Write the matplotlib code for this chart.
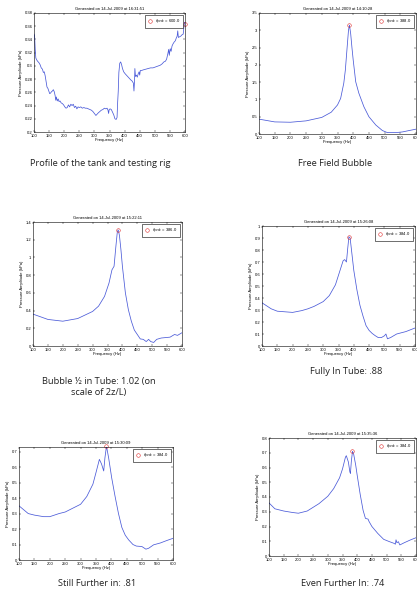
import matplotlib
matplotlib.use("Agg")
import matplotlib.pyplot as plt

# ---------------- data ----------------
freq_ticks = [100, 150, 200, 250, 300, 350, 400, 450, 500, 550, 600]

f1 = [100, 102, 104, 106, 109, 112, 116, 120, 124, 128, 131, 134, 137, 140, 143, 146, 149, 152, 155, 158,
      161, 164, 167, 170, 172, 174, 177, 180, 183, 186, 190, 194, 198, 202, 206, 210, 214, 218, 222, 226,
      230, 234, 238, 242, 246, 250, 255, 260, 265, 270, 275, 280, 285, 290, 295, 300, 305, 309, 313, 318,
      323, 328, 333, 338, 342, 345, 347, 349, 352, 356, 360, 364, 368, 372, 375, 377, 379, 381, 384, 387,
      390, 393, 397, 402, 408, 414, 420, 425, 429, 431, 433, 434, 436, 439, 442, 445, 448, 450, 452, 456,
      462, 470, 478, 486, 494, 500, 506, 512, 518, 524, 530, 535, 539, 543, 546, 548, 551, 554, 557, 560,
      564, 568, 571, 574, 576, 578, 582, 586, 590, 594, 597, 599, 600]
a1 = [0.348, 0.345, 0.325, 0.312, 0.309, 0.307, 0.305, 0.302, 0.297, 0.295, 0.290, 0.291, 0.285, 0.276,
      0.268, 0.266, 0.262, 0.258, 0.259, 0.261, 0.262, 0.264, 0.261, 0.255, 0.248, 0.253, 0.247, 0.250,
      0.246, 0.247, 0.244, 0.243, 0.241, 0.238, 0.236, 0.237, 0.241, 0.238, 0.242, 0.240, 0.242, 0.237,
      0.239, 0.235, 0.238, 0.237, 0.238, 0.236, 0.237, 0.236, 0.236, 0.235, 0.234, 0.233, 0.231, 0.228,
      0.225, 0.227, 0.229, 0.231, 0.233, 0.234, 0.236, 0.235, 0.236, 0.233, 0.228, 0.234, 0.235, 0.234,
      0.230, 0.226, 0.220, 0.219, 0.222, 0.245, 0.262, 0.290, 0.304, 0.306, 0.302, 0.296, 0.291, 0.288,
      0.285, 0.282, 0.279, 0.277, 0.274, 0.262, 0.278, 0.296, 0.284, 0.286, 0.283, 0.288, 0.291, 0.286,
      0.293, 0.293, 0.294, 0.295, 0.296, 0.297, 0.297, 0.298, 0.299, 0.300, 0.301, 0.303, 0.306, 0.307,
      0.310, 0.318, 0.325, 0.316, 0.326, 0.322, 0.330, 0.333, 0.336, 0.338, 0.342, 0.345, 0.353, 0.343,
      0.344, 0.345, 0.347, 0.348, 0.362, 0.366, 0.365]

f2 = [100, 150, 200, 250, 300, 330, 350, 360, 370, 375, 380, 385, 388, 392, 396, 400, 408, 418, 434, 450,
      472, 493, 509, 536, 557, 578, 600]
a2 = [0.43, 0.35, 0.34, 0.38, 0.48, 0.63, 0.84, 1.03, 1.47, 1.85, 2.43, 3.0, 3.15, 2.9, 2.5, 2.14, 1.51,
      1.18, 0.79, 0.5, 0.26, 0.1, 0.04, 0.04, 0.06, 0.1, 0.14]

f3 = [100, 150, 200, 250, 300, 320, 340, 355, 365, 372, 378, 383, 386, 390, 395, 400, 410, 420, 430, 440,
      450, 460, 470, 480, 488, 495, 505, 515, 530, 560, 575, 585, 600]
a3 = [0.36, 0.30, 0.28, 0.31, 0.39, 0.45, 0.56, 0.71, 0.86, 0.90, 1.12, 1.29, 1.31, 1.25, 1.09, 0.90,
      0.60, 0.41, 0.28, 0.18, 0.13, 0.08, 0.075, 0.05, 0.075, 0.05, 0.04, 0.075, 0.09, 0.10, 0.13, 0.12, 0.15]

f4 = [100, 130, 150, 200, 230, 250, 270, 300, 320, 340, 355, 365, 370, 376, 380, 384, 388, 392, 400, 410,
      420, 430, 440, 450, 460, 470, 480, 490, 500, 505, 510, 520, 540, 570, 600]
a4 = [0.36, 0.31, 0.29, 0.28, 0.295, 0.31, 0.33, 0.37, 0.42, 0.51, 0.63, 0.71, 0.72, 0.70, 0.81, 0.91,
      0.90, 0.81, 0.63, 0.47, 0.34, 0.25, 0.17, 0.13, 0.105, 0.086, 0.07, 0.07, 0.085, 0.10, 0.06, 0.07,
      0.10, 0.12, 0.15]

f5 = [100, 130, 150, 180, 200, 230, 250, 270, 300, 320, 340, 350, 361, 368, 375, 379, 384, 391, 401, 412,
      423, 434, 445, 456, 470, 481, 499, 512, 521, 537, 559, 580, 600]
a5 = [0.35, 0.30, 0.29, 0.28, 0.28, 0.30, 0.31, 0.33, 0.36, 0.41, 0.49, 0.565, 0.65, 0.62, 0.575, 0.66,
      0.735, 0.66, 0.53, 0.41, 0.30, 0.21, 0.16, 0.13, 0.10, 0.09, 0.087, 0.07, 0.076, 0.098, 0.11, 0.126, 0.14]

f6 = [100, 120, 150, 180, 200, 230, 250, 270, 300, 320, 340, 350, 360, 363, 370, 375, 377, 380, 384, 388,
      395, 400, 410, 420, 428, 437, 440, 450, 470, 490, 510, 525, 530, 532, 535, 540, 545, 560, 580, 600]
a6 = [0.36, 0.32, 0.305, 0.295, 0.29, 0.305, 0.33, 0.355, 0.405, 0.457, 0.53, 0.59, 0.67, 0.68, 0.637,
      0.57, 0.56, 0.64, 0.71, 0.69, 0.615, 0.547, 0.42, 0.31, 0.255, 0.25, 0.235, 0.2, 0.153, 0.113, 0.097,
      0.086, 0.08, 0.11, 0.09, 0.097, 0.075, 0.09, 0.108, 0.124]

peak_f = [600.0, 388.0, 386.0, 384.0, 384.0, 384.0]
peak_a = [0.364, 3.15, 1.31, 0.91, 0.735, 0.71]
times = ["16:31:51", "14:10:28", "15:22:11", "15:26:08", "15:30:09", "15:35:36"]
ylims = [(0.2, 0.38), (0, 3.5), (0, 1.4), (0, 1.0), (0, 0.73), (0, 0.8)]
yticks = [[0.2, 0.22, 0.24, 0.26, 0.28, 0.3, 0.32, 0.34, 0.36, 0.38],
          [0, 0.5, 1, 1.5, 2, 2.5, 3, 3.5],
          [0, 0.2, 0.4, 0.6, 0.8, 1, 1.2, 1.4],
          [0, 0.1, 0.2, 0.3, 0.4, 0.5, 0.6, 0.7, 0.8, 0.9, 1],
          [0, 0.1, 0.2, 0.3, 0.4, 0.5, 0.6, 0.7],
          [0, 0.1, 0.2, 0.3, 0.4, 0.5, 0.6, 0.7, 0.8]]
captions = ["Profile of the tank and testing rig", "Free Field Bubble",
            "Bubble \u00bd in Tube: 1.02 (on\nscale of 2z/L)", "Fully In Tube: .88",
            "Still Further in: .81", "Even Further In: .74"]

freqs = [f1, f2, f3, f4, f5, f6]
amps = [a1, a2, a3, a4, a5, a6]

# ---------------- layout (pixels: left, right, top, bottom) ----------------
W, H = 417, 590
boxes = [(34, 185, 13, 132), (259, 416, 13, 134), (33, 182, 222, 346),
         (262, 415, 226, 346), (19, 173, 447, 560), (269, 416, 438, 556)]
cap_pos = [(100, 163), (335, 163), (99, 387), (346, 372), (97, 583), (343, 583)]

fig = plt.figure(figsize=(W / 100, H / 100), dpi=100)
fig.patch.set_facecolor("white")

small = 3.0
line_col = "#4a5ad8"

for i in range(6):
    l, r, t, b = boxes[i]
    ax = fig.add_axes([l / W, 1 - b / H, (r - l) / W, (b - t) / H])
    ax.plot(freqs[i], amps[i], color=line_col, lw=0.55)
    ax.plot([peak_f[i]], [peak_a[i]], 'o', mfc='none', mec='#e03030', mew=0.4, ms=2.6,
            label=r"$f_{peak}$ = %.1f" % peak_f[i], clip_on=False)
    ax.set_xlim(100, 600)
    ax.set_ylim(*ylims[i])
    ax.set_xticks(freq_ticks)
    ax.set_xticklabels([str(v) for v in freq_ticks], family="Liberation Sans", fontsize=small)
    ax.set_yticks(yticks[i])
    ax.set_yticklabels(["%g" % v for v in yticks[i]], family="Liberation Sans", fontsize=small)
    ax.tick_params(direction="in", length=1.6, width=0.3, pad=1.2, top=True, right=True)
    for s in ax.spines.values():
        s.set_linewidth(0.4)
    ax.set_xlabel("Frequency (Hz)", family="Liberation Sans", fontsize=small, labelpad=0.5)
    ax.set_ylabel("Pressure Amplitude (kPa)", family="Liberation Sans", fontsize=small, labelpad=1.0)
    ax.set_title("Generated on 14-Jul-2009 at " + times[i], family="Liberation Sans",
                 fontsize=small, pad=2)
    leg = ax.legend(loc="upper right", fontsize=small, frameon=True, fancybox=False,
                    edgecolor="black", framealpha=1, handlelength=1.2, handletextpad=0.8,
                    borderpad=0.5, borderaxespad=0.5, prop={"family": "Liberation Sans", "size": small})
    leg.get_frame().set_linewidth(0.4)
    cx, cy = cap_pos[i]
    fig.text(cx / W, 1 - cy / H, captions[i], ha="center", va="center", family="Open Sans",
             fontsize=6.7, color="#222222", linespacing=1.25)

fig.savefig("out.png", dpi=100, facecolor="white")
